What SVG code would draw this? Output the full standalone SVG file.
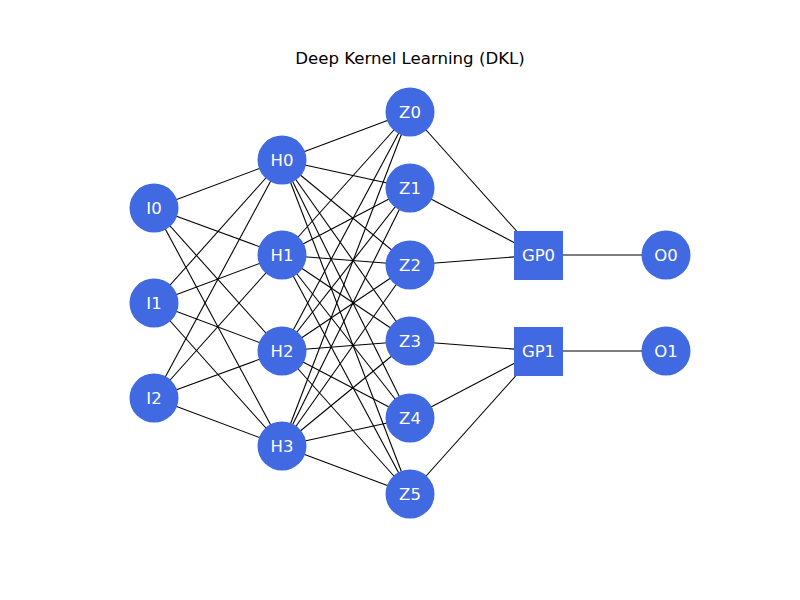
<svg xmlns="http://www.w3.org/2000/svg" width="800" height="600" viewBox="0 0 800 600">
<style>
.e{stroke:#000;stroke-width:1.1}
.n{fill:#4169e1}
.t{fill:#fff;font-family:"DejaVu Sans",sans-serif;font-size:16.5px;text-anchor:middle;dominant-baseline:central}
.title{fill:#000;font-family:"DejaVu Sans",sans-serif;font-size:16.6px;text-anchor:middle}
</style>
<rect width="800" height="600" fill="#fff"/>
<text class="title" x="410" y="64">Deep Kernel Learning (DKL)</text>
<g id="connectors" class="e">
<line x1="154" y1="208" x2="282" y2="160"/><line x1="154" y1="208" x2="282" y2="255"/><line x1="154" y1="208" x2="282" y2="351"/><line x1="154" y1="208" x2="282" y2="446"/>
<line x1="154" y1="303" x2="282" y2="160"/><line x1="154" y1="303" x2="282" y2="255"/><line x1="154" y1="303" x2="282" y2="351"/><line x1="154" y1="303" x2="282" y2="446"/>
<line x1="154" y1="398" x2="282" y2="160"/><line x1="154" y1="398" x2="282" y2="255"/><line x1="154" y1="398" x2="282" y2="351"/><line x1="154" y1="398" x2="282" y2="446"/>
<line x1="282" y1="160" x2="410" y2="112"/><line x1="282" y1="160" x2="410" y2="188"/><line x1="282" y1="160" x2="410" y2="265"/><line x1="282" y1="160" x2="410" y2="341"/><line x1="282" y1="160" x2="410" y2="418"/><line x1="282" y1="160" x2="410" y2="494"/>
<line x1="282" y1="255" x2="410" y2="112"/><line x1="282" y1="255" x2="410" y2="188"/><line x1="282" y1="255" x2="410" y2="265"/><line x1="282" y1="255" x2="410" y2="341"/><line x1="282" y1="255" x2="410" y2="418"/><line x1="282" y1="255" x2="410" y2="494"/>
<line x1="282" y1="351" x2="410" y2="112"/><line x1="282" y1="351" x2="410" y2="188"/><line x1="282" y1="351" x2="410" y2="265"/><line x1="282" y1="351" x2="410" y2="341"/><line x1="282" y1="351" x2="410" y2="418"/><line x1="282" y1="351" x2="410" y2="494"/>
<line x1="282" y1="446" x2="410" y2="112"/><line x1="282" y1="446" x2="410" y2="188"/><line x1="282" y1="446" x2="410" y2="265"/><line x1="282" y1="446" x2="410" y2="341"/><line x1="282" y1="446" x2="410" y2="418"/><line x1="282" y1="446" x2="410" y2="494"/>
<line x1="410" y1="112" x2="538" y2="255"/><line x1="410" y1="188" x2="538" y2="255"/><line x1="410" y1="265" x2="538" y2="255"/>
<line x1="410" y1="341" x2="538" y2="351"/><line x1="410" y1="418" x2="538" y2="351"/><line x1="410" y1="494" x2="538" y2="351"/>
<line x1="538" y1="255" x2="666" y2="255"/><line x1="538" y1="351" x2="666" y2="351"/>
</g>
<g id="I0"><circle class="n" cx="154" cy="208" r="24.5"/><text class="t" x="154" y="208">I0</text></g>
<g id="I1"><circle class="n" cx="154" cy="303" r="24.5"/><text class="t" x="154" y="303">I1</text></g>
<g id="I2"><circle class="n" cx="154" cy="398" r="24.5"/><text class="t" x="154" y="398">I2</text></g>
<g id="H0"><circle class="n" cx="282" cy="160" r="24.5"/><text class="t" x="282" y="160">H0</text></g>
<g id="H1"><circle class="n" cx="282" cy="255" r="24.5"/><text class="t" x="282" y="255">H1</text></g>
<g id="H2"><circle class="n" cx="282" cy="351" r="24.5"/><text class="t" x="282" y="351">H2</text></g>
<g id="H3"><circle class="n" cx="282" cy="446" r="24.5"/><text class="t" x="282" y="446">H3</text></g>
<g id="Z0"><circle class="n" cx="410" cy="112" r="24.5"/><text class="t" x="410" y="112">Z0</text></g>
<g id="Z1"><circle class="n" cx="410" cy="188" r="24.5"/><text class="t" x="410" y="188">Z1</text></g>
<g id="Z2"><circle class="n" cx="410" cy="265" r="24.5"/><text class="t" x="410" y="265">Z2</text></g>
<g id="Z3"><circle class="n" cx="410" cy="341" r="24.5"/><text class="t" x="410" y="341">Z3</text></g>
<g id="Z4"><circle class="n" cx="410" cy="418" r="24.5"/><text class="t" x="410" y="418">Z4</text></g>
<g id="Z5"><circle class="n" cx="410" cy="494" r="24.5"/><text class="t" x="410" y="494">Z5</text></g>
<g id="GP0"><rect class="n" x="514" y="231" width="49" height="49"/><text class="t" x="538.5" y="255.5">GP0</text></g>
<g id="GP1"><rect class="n" x="514" y="327" width="49" height="49"/><text class="t" x="538.5" y="351.5">GP1</text></g>
<g id="O0"><circle class="n" cx="666" cy="255" r="24.5"/><text class="t" x="666" y="255">O0</text></g>
<g id="O1"><circle class="n" cx="666" cy="351" r="24.5"/><text class="t" x="666" y="351">O1</text></g>
</svg>
